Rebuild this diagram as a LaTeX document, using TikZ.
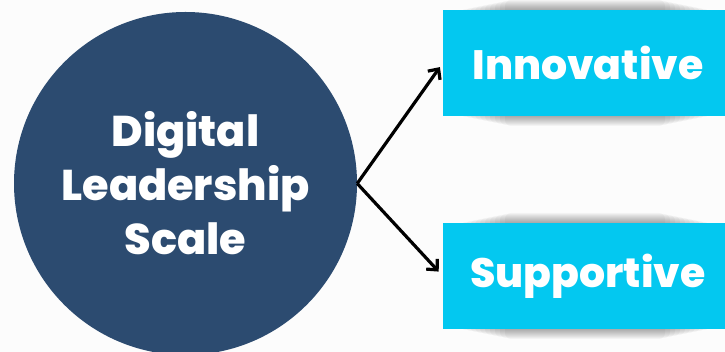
\documentclass[tikz,border=0pt]{standalone}
\usepackage{fontspec}
\setmainfont{Poppins}
\newfontfamily\heavyfont{Poppins ExtraBold}
\usepackage{xcolor}
\usepackage{tikz}
\usetikzlibrary{arrows.meta, positioning}

\definecolor{scaleblue}{RGB}{44,75,112}
\definecolor{boxcyan}{RGB}{3,200,240}

\begin{document}
\begin{tikzpicture}[
            x=1pt, y=1pt,
            scalenode/.style={circle, fill=scaleblue, minimum size=343pt, inner sep=0pt,
                text=white, font=\fontsize{43}{54}\selectfont\heavyfont, align=center},
            dimbox/.style={rectangle, fill=boxcyan, minimum width=284pt, minimum height=106pt,
                text=white, font=\fontsize{41}{46}\selectfont\heavyfont},
            linkarrow/.style={-{Straight Barb[length=8pt, width=15pt]},
                line width=3.2pt, draw=black}
        ]
        \useasboundingbox (0,0) rectangle (725,352);
        \fill[white!99!black] (0,0) rectangle (725,352);

        % soft shadows above and below the boxes
        \foreach \y in {289, 76} {
            \foreach \k in {1,...,10} {
                \fill[black, opacity=0.035, rounded corners=6pt]
                    (455+5*\k, \y-53-\k) rectangle (715-5*\k, \y+53+\k);
            }
        }

        % Nodes (manual layout to match figure)
        \node[scalenode] (S) at (185.5, 168.5) {Digital\\Leadership\\Scale};
        \node[dimbox] (I) at (585, 289) {\hspace*{6pt}Innovative};
        \node[dimbox] (P) at (585, 76) {\hspace*{6pt}Supportive};

        % Edges
        \draw[linkarrow, shorten >=5pt] (S.east) -- (I.west);
        \draw[linkarrow, shorten >=6pt] (S.east) -- (P.west);

    \end{tikzpicture}
\end{document}
